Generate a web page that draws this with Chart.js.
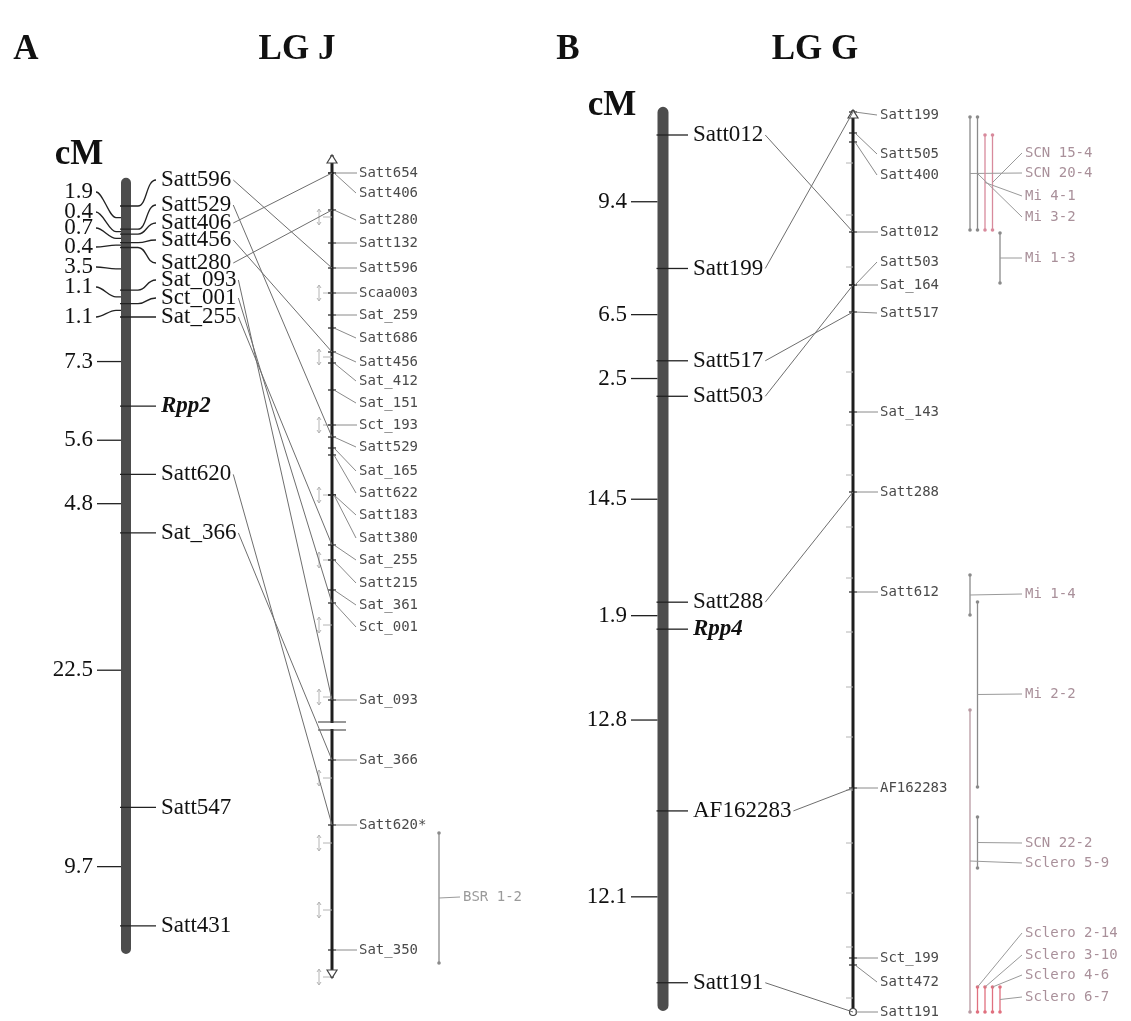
<!DOCTYPE html>
<html lang="en">
<head>
<meta charset="UTF-8">
<title>LG J / LG G linkage maps</title>
<script src="https://cdn.jsdelivr.net/npm/chart.js"></script>
<style>
  html, body { margin: 0; padding: 0; background: #fff; }
  #map { display: block; }
</style>
</head>
<body>
<canvas id="map" width="1131" height="1021"></canvas>
<script>
// ---------- LG J (panel A) ----------
const markersJ = ['Satt596','Satt529','Satt406','Satt456','Satt280','Sat_093','Sct_001','Sat_255','Rpp2','Satt620','Sat_366','Satt547','Satt431'];
const gapsJ = [1.9, 0.4, 0.7, 0.4, 3.5, 1.1, 1.1, 7.3, 5.6, 4.8, 22.5, 9.7];
// consensus map (right bar), positions on the figure's vertical scale
const consensusJ = ['Satt654','Satt406','Satt280','Satt132','Satt596','Scaa003','Sat_259','Satt686','Satt456','Sat_412','Sat_151','Sct_193','Satt529','Sat_165','Satt622','Satt183','Satt380','Sat_255','Satt215','Sat_361','Sct_001','Sat_093','Sat_366','Satt620*','Sat_350'];
const consensusPosJ = [173,173,210,243,268,293,315,328,352,363,390,425,437,448,455,495,495,545,560,590,603,700,760,825,950];
const consensusEndsJ = [155, 978];
const consensusBreakJ = 726;
const scaleMarksJ = [217,293,357,425,495,560,625,697,778,843,910,977];
const qtlNamesJ = ['BSR 1-2'];
const qtlFromJ = [833];
const qtlToJ = [963];

// ---------- LG G (panel B) ----------
const markersG = ['Satt012','Satt199','Satt517','Satt503','Satt288','Rpp4','AF162283','Satt191'];
const gapsG = [9.4, 6.5, 2.5, 14.5, 1.9, 12.8, 12.1];
const consensusG = ['Satt199','Satt505','Satt400','Satt012','Satt503','Sat_164','Satt517','Sat_143','Satt288','Satt612','AF162283','Sct_199','Satt472','Satt191'];
const consensusPosG = [112,133,142,232,285,285,312,412,492,592,788,958,965,1012];
const consensusEndsG = [110, 1012];
const scaleMarksG = [163,215,267,372,425,475,527,578,632,687,737,790,843,893,947,998];
const qtlNamesG = ['SCN 15-4','SCN 20-4','Mi 4-1','Mi 3-2','Mi 1-3','Mi 1-4','Mi 2-2','SCN 22-2','Sclero 5-9','Sclero 2-14','Sclero 3-10','Sclero 4-6','Sclero 6-7'];
const qtlFromG = [135,117,135,117,233,575,602,817,710,987,987,987,987];
const qtlToG   = [230,230,230,230,283,615,787,868,1012,1012,1012,1012,1012];

// ---------- layout ----------
const panels = [
  {
    letter: 'A', title: 'LG J', letterX: 26, titleX: 297, headY: 50, cmX: 79, cmY: 155,
    axis: 'yJ', barX: 126, barWidth: 10, barPad: 1.9, markerLabelX: 161, gapLabelRight: 93,
    markerSlots: [180,205,223,240,263,280,298,317], gapSlots: [192,212,228,247,267,287,317],
    consX: 332, consLabelX: 359, bottomCap: 'vee', markStyle: 'arrow', markX: 319,
    consSlots: [173,193,220,243,268,293,315,338,362,381,403,425,447,471,493,515,538,560,583,605,627,700,760,825,950],
    qtlX0: 439, qtlStep: 7.5, qtlLabelX: 463, qtlColumns: [1], qtlSlots: [897],
    qtlColors: ['#8a8a8a'], qtlText: '#9a9a9a',
    data: { markers: markersJ, gaps: gapsJ, cons: consensusJ, consPos: consensusPosJ, consEnds: consensusEndsJ,
            consBreak: consensusBreakJ, marks: scaleMarksJ, qtlNames: qtlNamesJ, qtlFrom: qtlFromJ, qtlTo: qtlToJ }
  },
  {
    letter: 'B', title: 'LG G', letterX: 568, titleX: 815, headY: 50, cmX: 612, cmY: 106,
    axis: 'yG', barX: 663, barWidth: 11, barPad: 1.6, markerLabelX: 693, gapLabelRight: 627,
    markerSlots: [], gapSlots: [],
    consX: 853, consLabelX: 880, bottomCap: 'circle', markStyle: 'tick', markX: 846,
    consSlots: [115,154,175,232,262,285,313,412,492,592,788,958,982,1012],
    qtlX0: 970, qtlStep: 7.5, qtlLabelX: 1025, qtlColumns: [4,1,3,2,5,1,2,2,1,2,3,4,5],
    qtlSlots: [153,173,196,217,258,594,694,843,863,933,955,975,997],
    qtlColors: ['#d88a9c','#8a8a8a','#d88a9c','#8a8a8a','#8a8a8a','#8a8a8a','#8a8a8a','#8a8a8a','#b89aa2','#e0707f','#e0707f','#e0707f','#e0707f'],
    qtlText: '#a9909a',
    data: { markers: markersG, gaps: gapsG, cons: consensusG, consPos: consensusPosG, consEnds: consensusEndsG,
            consBreak: null, marks: scaleMarksG, qtlNames: qtlNamesG, qtlFrom: qtlFromG, qtlTo: qtlToG }
  }
];

function cumulative(gaps) {
  const out = [0];
  gaps.forEach(g => out.push(+(out[out.length - 1] + g).toFixed(2)));
  return out;
}

const SERIF = '"Liberation Serif", "Times New Roman", serif';
const MONO = '"DejaVu Sans Mono", monospace';

function drawPanel(ctx, P, px, py) {
  const d = P.data;
  const cm = cumulative(d.gaps);
  ctx.save();
  ctx.textBaseline = 'middle';

  // headings
  ctx.fillStyle = '#111';
  ctx.textAlign = 'center';
  ctx.font = 'bold 35px ' + SERIF;
  ctx.fillText(P.letter, px(P.letterX), py(P.headY));
  ctx.fillText(P.title, px(P.titleX), py(P.headY));
  ctx.fillText('cM', px(P.cmX), py(P.cmY));

  // left bar: markers
  const barX = px(P.barX);
  const half = P.barWidth / 2;
  const labelEnds = {};
  ctx.strokeStyle = '#222';
  ctx.lineWidth = 1.3;
  ctx.textAlign = 'left';
  d.markers.forEach((m, i) => {
    const ty = py(cm[i], P.axis);
    const ly = P.markerSlots[i] != null ? py(P.markerSlots[i]) : ty;
    const lx = px(P.markerLabelX);
    ctx.beginPath();
    ctx.moveTo(barX - half - 1, ty);
    ctx.lineTo(barX + 12, ty);
    if (Math.abs(ly - ty) < 1) ctx.lineTo(lx - 5, ty);
    else ctx.bezierCurveTo(barX + 21, ty, lx - 15, ly, lx - 5, ly);
    ctx.stroke();
    ctx.font = (m.startsWith('Rpp') ? 'italic bold ' : '') + '23px ' + SERIF;
    ctx.fillText(m, lx, ly);
    labelEnds[m] = { x: lx + ctx.measureText(m).width + 2, y: ly };
  });

  // left bar: interval lengths
  ctx.textAlign = 'right';
  ctx.font = '23px ' + SERIF;
  d.gaps.forEach((g, i) => {
    const mid = py((cm[i] + cm[i + 1]) / 2, P.axis);
    const ly = P.gapSlots[i] != null ? py(P.gapSlots[i]) : mid;
    const rx = px(P.gapLabelRight);
    ctx.beginPath();
    ctx.moveTo(barX - half, mid);
    if (Math.abs(ly - mid) < 1) ctx.lineTo(rx + 4, mid);
    else {
      ctx.lineTo(barX - half - 5, mid);
      ctx.bezierCurveTo(barX - half - 12, mid, rx + 10, ly, rx + 3, ly);
    }
    ctx.stroke();
    ctx.fillText(g.toFixed(1), rx, ly);
  });

  // consensus bar
  const cx = px(P.consX);
  const top = py(d.consEnds[0]);
  const bot = py(d.consEnds[1]);

  // scale annotations beside the consensus bar
  ctx.strokeStyle = '#b4b4b4';
  ctx.lineWidth = 1;
  d.marks.forEach(v => {
    const y = py(v);
    const mx = px(P.markX);
    ctx.beginPath();
    if (P.markStyle === 'arrow') {
      ctx.moveTo(mx, y - 8); ctx.lineTo(mx, y + 8);
      ctx.moveTo(mx - 2, y - 5); ctx.lineTo(mx, y - 8); ctx.lineTo(mx + 2, y - 5);
      ctx.moveTo(mx - 2, y + 5); ctx.lineTo(mx, y + 8); ctx.lineTo(mx + 2, y + 5);
      ctx.moveTo(mx + 4, y); ctx.lineTo(cx, y);
    } else {
      ctx.moveTo(mx, y); ctx.lineTo(cx, y);
    }
    ctx.stroke();
  });

  ctx.strokeStyle = '#222';
  ctx.lineWidth = 1.2;
  d.consPos.forEach(v => {
    const y = py(v);
    ctx.beginPath();
    ctx.moveTo(cx - 4, y);
    ctx.lineTo(cx + 4, y);
    ctx.stroke();
  });

  // caps and break
  ctx.fillStyle = '#fff';
  ctx.strokeStyle = '#444';
  ctx.lineWidth = 1.2;
  ctx.beginPath();
  ctx.moveTo(cx - 5, top + 8); ctx.lineTo(cx, top); ctx.lineTo(cx + 5, top + 8); ctx.closePath();
  ctx.fill(); ctx.stroke();
  if (P.bottomCap === 'vee') {
    ctx.beginPath();
    ctx.moveTo(cx - 5, bot - 8); ctx.lineTo(cx, bot); ctx.lineTo(cx + 5, bot - 8); ctx.closePath();
    ctx.fill(); ctx.stroke();
  } else {
    ctx.beginPath();
    ctx.arc(cx, bot, 3.5, 0, Math.PI * 2);
    ctx.fill(); ctx.stroke();
  }
  if (d.consBreak != null) {
    const yb = py(d.consBreak);
    ctx.fillRect(cx - 3, yb - 3, 6, 6);
    ctx.strokeStyle = '#333';
    ctx.beginPath();
    ctx.moveTo(cx - 14, yb - 4); ctx.lineTo(cx + 14, yb - 4);
    ctx.moveTo(cx - 14, yb + 4); ctx.lineTo(cx + 14, yb + 4);
    ctx.stroke();
  }

  // consensus labels
  ctx.textAlign = 'left';
  ctx.font = '14px ' + MONO;
  ctx.fillStyle = '#4a4a4a';
  ctx.strokeStyle = '#8a8a8a';
  ctx.lineWidth = 1;
  d.cons.forEach((m, i) => {
    const y = py(d.consPos[i]);
    const ly = py(P.consSlots[i]);
    const lx = px(P.consLabelX);
    ctx.beginPath();
    ctx.moveTo(cx + 2, y);
    if (Math.abs(ly - y) < 1) ctx.lineTo(lx - 2, y);
    else ctx.lineTo(lx - 3, ly);
    ctx.stroke();
    ctx.fillText(m, lx, ly);
  });

  // links between the two maps
  ctx.strokeStyle = '#6e6e6e';
  ctx.lineWidth = 1;
  d.markers.forEach(m => {
    const j = d.cons.findIndex(c => c.replace('*', '') === m);
    if (j < 0) return;
    const e = labelEnds[m];
    ctx.beginPath();
    ctx.moveTo(e.x, e.y);
    ctx.lineTo(cx, py(d.consPos[j]));
    ctx.stroke();
  });

  // QTL intervals
  ctx.font = '14px ' + MONO;
  d.qtlNames.forEach((name, i) => {
    const x = px(P.qtlX0 + (P.qtlColumns[i] - 1) * P.qtlStep);
    const y0 = py(d.qtlFrom[i]);
    const y1 = py(d.qtlTo[i]);
    const ly = py(P.qtlSlots[i]);
    const lx = px(P.qtlLabelX);
    // leader leaves from the bracket middle, or its nearest end if the label lies outside
    const anchor = ly < y0 ? y0 : ly > y1 ? y1 : (y0 + y1) / 2;
    ctx.strokeStyle = P.qtlColors[i];
    ctx.fillStyle = P.qtlColors[i];
    ctx.lineWidth = 1.3;
    ctx.beginPath();
    ctx.moveTo(x, y0); ctx.lineTo(x, y1);
    ctx.stroke();
    [y0, y1].forEach(y => { ctx.beginPath(); ctx.arc(x, y, 1.8, 0, Math.PI * 2); ctx.fill(); });
    ctx.strokeStyle = '#9a9a9a';
    ctx.lineWidth = 1;
    ctx.beginPath();
    ctx.moveTo(x, anchor);
    ctx.lineTo(lx - 3, ly);
    ctx.stroke();
    ctx.fillStyle = P.qtlText;
    ctx.fillText(name, lx, ly);
  });

  ctx.restore();
}

const mapPlugin = {
  id: 'linkageMap',
  afterDatasetsDraw(chart) {
    const sx = chart.scales.x;
    const px = v => sx.getPixelForValue(v);
    const py = (v, id) => chart.scales[id || 'y'].getPixelForValue(v);
    panels.forEach(p => drawPanel(chart.ctx, p, px, py));
  }
};

const whiteBg = {
  id: 'whiteBg',
  beforeDraw(chart) {
    const c = chart.ctx;
    c.save();
    c.fillStyle = '#fff';
    c.fillRect(0, 0, chart.width, chart.height);
    c.restore();
  }
};

const datasets = [];
panels.forEach(p => {
  const cm = cumulative(p.data.gaps);
  datasets.push({
    label: p.title + ' map',
    yAxisID: p.axis,
    data: [{ x: p.barX, y: cm[0] - p.barPad }, { x: p.barX, y: cm[cm.length - 1] + p.barPad }],
    borderColor: '#4d4d4d',
    borderWidth: p.barWidth,
    borderCapStyle: 'round'
  });
  datasets.push({
    label: p.title + ' consensus',
    yAxisID: 'y',
    data: [{ x: p.consX, y: p.data.consEnds[0] }, { x: p.consX, y: p.data.consEnds[1] }],
    borderColor: '#1e1e1e',
    borderWidth: 3
  });
});
datasets.forEach(ds => Object.assign(ds, { showLine: true, pointRadius: 0, clip: false, tension: 0 }));

new Chart(document.getElementById('map'), {
  type: 'scatter',
  data: { datasets },
  options: {
    responsive: false,
    animation: false,
    events: [],
    layout: { padding: 0 },
    plugins: { legend: { display: false }, tooltip: { enabled: false } },
    scales: {
      x:  { type: 'linear', min: 0, max: 1131, display: false },
      y:  { type: 'linear', min: 0, max: 1021, reverse: true, display: false },
      yJ: { type: 'linear', min: -206 / 12.2, max: (1021 - 206) / 12.2, reverse: true, display: false },
      yG: { type: 'linear', min: -135 / 14.2, max: (1021 - 135) / 14.2, reverse: true, display: false }
    }
  },
  plugins: [whiteBg, mapPlugin]
});
</script>
</body>
</html>
